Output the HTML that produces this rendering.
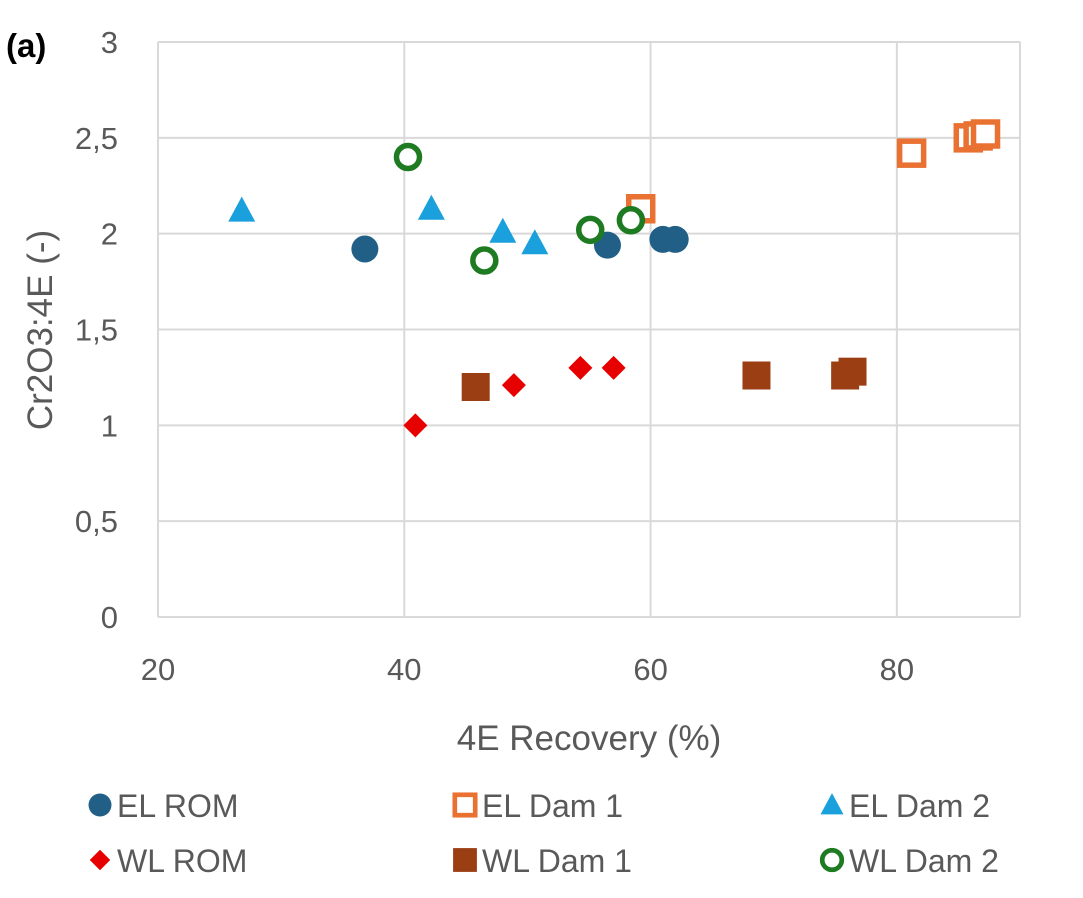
<!DOCTYPE html>
<html><head><meta charset="utf-8"><style>
html,body{margin:0;padding:0;background:#fff;width:1083px;height:898px;overflow:hidden}
svg text{font-family:"Liberation Sans",sans-serif}
</style></head><body>
<svg id="c" width="1083" height="898" xmlns="http://www.w3.org/2000/svg"></svg>
<script>
const xTicks=[20,40,60,80];
const yTicks=[0,0.5,1,1.5,2,2.5,3];
const yTickLabels=["0","0,5","1","1,5","2","2,5","3"];
const elRomX=[36.8,56.5,61,62];
const elRomY=[1.92,1.94,1.97,1.97];
const elDam1X=[59.2,81.2,85.8,86.6,87.2];
const elDam1Y=[2.13,2.42,2.50,2.51,2.52];
const elDam2X=[26.8,42.2,48,50.6];
const elDam2Y=[2.12,2.13,2.01,1.95];
const wlRomX=[40.9,48.9,54.3,57];
const wlRomY=[1.0,1.21,1.30,1.30];
const wlDam1X=[45.8,68.6,75.8,76.4];
const wlDam1Y=[1.20,1.26,1.26,1.28];
const wlDam2X=[40.3,46.5,55.1,58.4];
const wlDam2Y=[2.40,1.86,2.02,2.07];
const seriesNames=["EL ROM","EL Dam 1","EL Dam 2","WL ROM","WL Dam 1","WL Dam 2"];

const NS="http://www.w3.org/2000/svg";
const svg=document.getElementById('c');
const X0=158,X1=1020,XMIN=20,XMAX=90,Y0=617,Y1=42,YMIN=0,YMAX=3;
const sx=v=>X0+(v-XMIN)/(XMAX-XMIN)*(X1-X0);
const sy=v=>Y0-(v-YMIN)/(YMAX-YMIN)*(Y0-Y1);
function mk(t,a,p){const e=document.createElementNS(NS,t);for(const k in a)e.setAttribute(k,a[k]);(p||svg).appendChild(e);return e;}

for(let i=0;i<yTicks.length;i++){
  const y=sy(yTicks[i]);
  const g=mk('line',{x1:X0,x2:X1,y1:y,y2:y,stroke:'#d9d9d9','stroke-width':2});
  
  
  const t=mk('text',{x:118,y:y+11,'font-size':31,fill:'#595959','text-anchor':'end'});
  t.textContent=yTickLabels[i];
  
  
}
for(const v of xTicks){
  const x=sx(v);
  const g=mk('line',{x1:x,x2:x,y1:Y1,y2:Y0,stroke:'#d9d9d9','stroke-width':2});
  
  
  const t=mk('text',{x:x,y:680,'font-size':31,fill:'#595959','text-anchor':'middle'});
  t.textContent=v;
  
  
}
const rg=mk('line',{x1:X1,x2:X1,y1:Y1,y2:Y0,stroke:'#d9d9d9','stroke-width':2});



const xt=mk('text',{x:589,y:750,'font-size':35,fill:'#595959','text-anchor':'middle'});
xt.textContent='4E Recovery (%)';


const yt=mk('text',{x:0,y:0,'font-size':35,fill:'#595959','text-anchor':'middle',transform:'translate(52,330) rotate(-90)'});
yt.textContent='Cr2O3:4E (-)';


const pl=mk('text',{x:6,y:57,'font-size':33,'font-weight':'bold',fill:'#000'});
pl.textContent='(a)';



function marker(type,cx,cy,s){
  let e;
  if(type==='circle')e=mk('circle',{cx,cy,r:13.5*s,fill:'#215f87'});
  else if(type==='osq')e=mk('rect',{x:cx-12*s,y:cy-12*s,width:24*s,height:24*s,fill:'#fff',stroke:'#e97132','stroke-width':5.5*s});
  else if(type==='tri')e=mk('polygon',{points:`${cx},${cy-14*s} ${cx+13.5*s},${cy+11*s} ${cx-13.5*s},${cy+11*s}`,fill:'#1aa0dc'});
  else if(type==='dia')e=mk('polygon',{points:`${cx},${cy-12*s} ${cx+12*s},${cy} ${cx},${cy+12*s} ${cx-12*s},${cy}`,fill:'#e60000'});
  else if(type==='sq')e=mk('rect',{x:cx-14*s,y:cy-14*s,width:28*s,height:28*s,fill:'#9c3e14'});
  else e=mk('circle',{cx,cy,r:11.5*s,fill:'#fff',stroke:'#1e7b22','stroke-width':5.5*s});
  return e;
}
const series=[[elRomX,elRomY,'circle'],[elDam1X,elDam1Y,'osq'],[elDam2X,elDam2Y,'tri'],[wlRomX,wlRomY,'dia'],[wlDam1X,wlDam1Y,'sq'],[wlDam2X,wlDam2Y,'ocirc']];
series.forEach((s,si)=>{
  for(let i=0;i<s[0].length;i++){
    const e=marker(s[2],sx(s[0][i]),sy(s[1][i]),1);
    
    
  }
});
const legPos=[[100,805],[465,805],[832,805],[100,860],[465,860],[832,860]];
series.forEach((s,si)=>{
  const [lx,ly]=legPos[si];
  const m=marker(s[2],lx,ly,0.85);
  
  
  const t=mk('text',{x:lx+17,y:ly+12,'font-size':32,fill:'#595959'});
  t.textContent=seriesNames[si];
  
  
});
</script>
</body></html>
